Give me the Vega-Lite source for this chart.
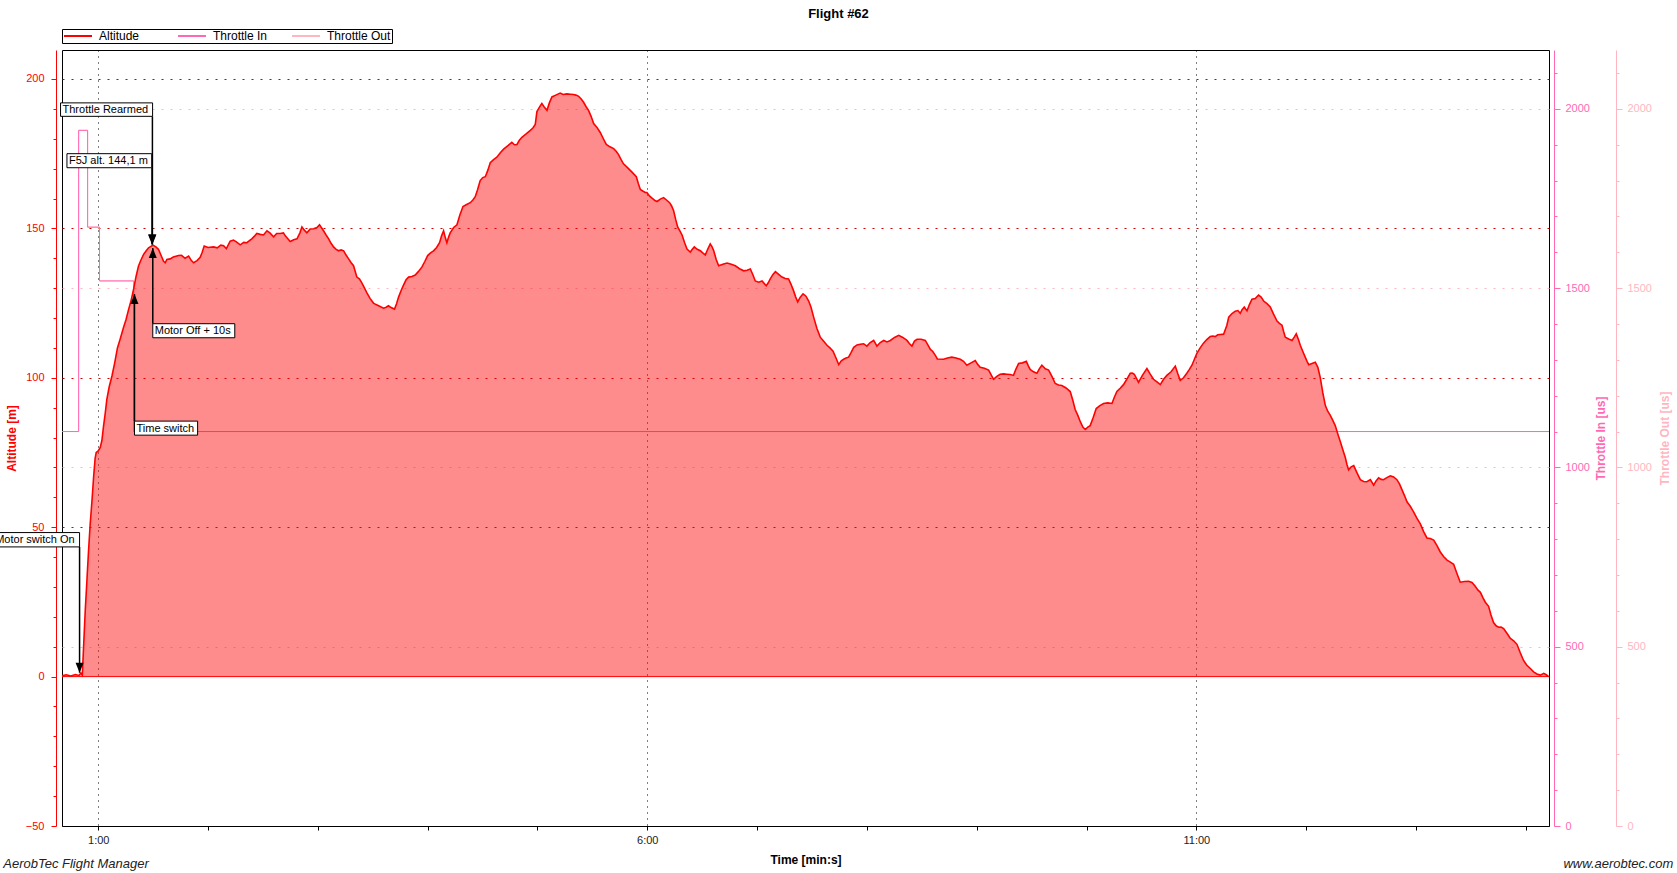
{
  "$schema": "https://vega.github.io/schema/vega-lite/v6.json",
  "width": 1487,
  "height": 776,
  "autosize": {"type": "none"},
  "padding": {"left": 62, "top": 50, "right": 128, "bottom": 47},
  "background": "white",
  "title": {"text": "Flight #62", "fontSize": 13, "fontWeight": "bold", "color": "black", "anchor": "middle", "dx": 33, "offset": 8},
  "config": {
    "font": "Liberation Sans",
    "view": {"stroke": "black", "strokeWidth": 1, "fill": "white"},
    "axis": {"labelFontSize": 11, "titleFontSize": 12, "titleFontWeight": "bold", "labelOverlap": false, "labelBound": false, "labelFlush": false, "domainWidth": 1, "tickWidth": 1}
  },
  "datasets": {
    "alt": [
      {"t":40.2,"alt":0.3},{"t":42.5,"alt":0.6},{"t":45,"alt":0.2},{"t":47.5,"alt":0.7},{"t":49.5,"alt":0.4},{"t":50.5,"alt":1.2},{"t":51.3,"alt":0.5},
      {"t":52,"alt":10},{"t":52.9,"alt":22},{"t":53.8,"alt":32},{"t":54.7,"alt":42},{"t":55.6,"alt":51},{"t":56.6,"alt":59},{"t":57.5,"alt":67},{"t":58.3,"alt":73},{"t":58.9,"alt":75},{"t":60,"alt":75.5},{"t":61.1,"alt":76.7},{"t":62,"alt":79},{"t":62.9,"alt":83.8},{"t":63.8,"alt":88},{"t":64.7,"alt":92.8},{"t":66,"alt":97},{"t":67.5,"alt":100.6},{"t":69,"alt":105},{"t":70.5,"alt":110},{"t":72,"alt":113},{"t":73.8,"alt":116.8},{"t":75.2,"alt":119.5},{"t":76.6,"alt":122.9},{"t":78,"alt":126},{"t":79.3,"alt":129.6},{"t":80.7,"alt":134},{"t":82,"alt":137.4},{"t":83.4,"alt":139.5},{"t":84.8,"alt":141.3},{"t":86.2,"alt":142.5},{"t":87.5,"alt":143.5},{"t":89.9,"alt":144.4},{"t":91.5,"alt":143.8},{"t":92.9,"alt":143},{"t":94.3,"alt":141},{"t":95.7,"alt":139},{"t":96.6,"alt":138.5},{"t":97.5,"alt":139.6},{"t":99.3,"alt":139.8},{"t":101,"alt":140.4},{"t":103.9,"alt":140.9},{"t":105.5,"alt":141},{"t":107.5,"alt":140},{"t":109.4,"alt":140.7},{"t":110.8,"alt":139.3},{"t":112.1,"alt":138.5},{"t":114,"alt":139.2},{"t":115.7,"alt":140.3},{"t":116.8,"alt":142},{"t":117.9,"alt":144.1},{"t":120,"alt":143.6},{"t":123,"alt":143.8},{"t":125,"alt":143.5},{"t":127,"alt":144.4},{"t":128.5,"alt":144.2},{"t":130,"alt":143.2},{"t":132.1,"alt":145.7},{"t":133.9,"alt":146.1},{"t":135.5,"alt":145.5},{"t":137.6,"alt":144.5},{"t":139.5,"alt":145.3},{"t":141.2,"alt":145.2},{"t":143.9,"alt":146.5},{"t":145.5,"alt":147.5},{"t":146.7,"alt":148.3},{"t":148.5,"alt":148},{"t":150.3,"alt":147.8},{"t":152.2,"alt":149.2},{"t":153.8,"alt":148.5},{"t":155.8,"alt":147.2},{"t":157.5,"alt":148.3},{"t":159.4,"alt":148.3},{"t":161.2,"alt":148.5},{"t":162.2,"alt":147.5},{"t":164.9,"alt":145.6},{"t":166.8,"alt":146.2},{"t":168.6,"alt":146.5},{"t":170.2,"alt":148.5},{"t":171.3,"alt":150.5},{"t":172.5,"alt":149.5},{"t":174,"alt":148.5},{"t":175.8,"alt":149.8},{"t":177.7,"alt":149.9},{"t":179.5,"alt":150.3},{"t":180.9,"alt":151.2},{"t":182,"alt":150.2},{"t":183.1,"alt":149.2},{"t":184.5,"alt":147.8},{"t":185.9,"alt":146.5},{"t":187.2,"alt":145},{"t":188.6,"alt":143.8},{"t":190,"alt":143},{"t":191.3,"alt":142.5},{"t":192.7,"alt":142.8},{"t":194.1,"alt":142.5},{"t":195.5,"alt":141},{"t":196.8,"alt":139.8},{"t":198.2,"alt":138.5},{"t":199.5,"alt":137.5},{"t":201.3,"alt":133.7},{"t":202.7,"alt":133.1},{"t":204.1,"alt":131.7},{"t":205.5,"alt":130},{"t":206.8,"alt":128.4},{"t":208.6,"alt":126.5},{"t":210.4,"alt":125},{"t":211.8,"alt":124.5},{"t":213.2,"alt":124.1},{"t":215.9,"alt":123.3},{"t":217.3,"alt":123.6},{"t":218.6,"alt":124.1},{"t":220,"alt":123.5},{"t":221.9,"alt":123},{"t":223,"alt":124.8},{"t":224.1,"alt":127},{"t":225.5,"alt":129.2},{"t":226.8,"alt":131},{"t":228.2,"alt":132.8},{"t":229.6,"alt":133.7},{"t":231.4,"alt":133.9},{"t":233.2,"alt":134.4},{"t":235,"alt":135.6},{"t":236.9,"alt":137.1},{"t":238.5,"alt":139},{"t":240,"alt":140.9},{"t":241.6,"alt":141.8},{"t":243.2,"alt":142.5},{"t":244.9,"alt":143.6},{"t":246.5,"alt":145.2},{"t":247.6,"alt":147.5},{"t":248.7,"alt":149.2},{"t":249.6,"alt":147},{"t":250.5,"alt":145.2},{"t":251.4,"alt":147},{"t":252.3,"alt":148.5},{"t":254.2,"alt":150.3},{"t":256,"alt":151.2},{"t":257.6,"alt":154.5},{"t":259.3,"alt":157.3},{"t":261.3,"alt":158},{"t":263.3,"alt":158.6},{"t":264.7,"alt":159.5},{"t":266,"alt":160.6},{"t":267.3,"alt":163},{"t":268.7,"alt":166},{"t":270.1,"alt":167},{"t":271.5,"alt":167.3},{"t":272.9,"alt":169.5},{"t":274.2,"alt":172},{"t":276,"alt":173},{"t":277.8,"alt":173.8},{"t":279.7,"alt":175.3},{"t":281.5,"alt":176.5},{"t":283.7,"alt":177.6},{"t":286,"alt":178.8},{"t":287.4,"alt":178},{"t":288.8,"alt":178.1},{"t":290.1,"alt":179.5},{"t":291.5,"alt":180.5},{"t":293.8,"alt":181.6},{"t":296.1,"alt":182.8},{"t":297.5,"alt":183.6},{"t":298.8,"alt":184.8},{"t":299.7,"alt":189.1},{"t":301,"alt":190.5},{"t":302.4,"alt":191.8},{"t":303.8,"alt":190.5},{"t":305.2,"alt":189.5},{"t":306.5,"alt":192},{"t":307.9,"alt":194},{"t":310,"alt":194.6},{"t":312.4,"alt":195.3},{"t":314,"alt":194.8},{"t":316.1,"alt":195},{"t":318,"alt":194.9},{"t":319.7,"alt":194.8},{"t":321,"alt":194.6},{"t":322.5,"alt":194.2},{"t":324,"alt":193.2},{"t":325.2,"alt":192.2},{"t":326.5,"alt":190.8},{"t":327.9,"alt":189.5},{"t":329.3,"alt":187.5},{"t":330.7,"alt":185.1},{"t":332.5,"alt":183.8},{"t":334.3,"alt":182.1},{"t":336,"alt":180},{"t":337.6,"alt":178.1},{"t":339.6,"alt":177.3},{"t":341.6,"alt":176.7},{"t":343,"alt":175.8},{"t":344.3,"alt":174.7},{"t":345.7,"alt":173},{"t":347,"alt":171.6},{"t":348.9,"alt":170.5},{"t":350.7,"alt":169.4},{"t":352.3,"alt":168.4},{"t":354,"alt":167.3},{"t":355.1,"alt":165},{"t":356.2,"alt":163},{"t":357.5,"alt":162.5},{"t":358.9,"alt":162},{"t":359.8,"alt":162},{"t":361.3,"alt":160.8},{"t":363.1,"alt":159.9},{"t":364.2,"alt":159.3},{"t":365.3,"alt":159},{"t":367.1,"alt":159.8},{"t":368.9,"alt":160.3},{"t":370.5,"alt":159.5},{"t":372.2,"alt":158.6},{"t":373.3,"alt":157.5},{"t":374.4,"alt":155.9},{"t":375.5,"alt":153},{"t":376.6,"alt":150.5},{"t":377.8,"alt":149.2},{"t":379,"alt":147.8},{"t":380.4,"alt":145.2},{"t":381.7,"alt":143.1},{"t":383.5,"alt":142.1},{"t":384.6,"alt":143},{"t":385.7,"alt":143.8},{"t":387.3,"alt":143},{"t":389,"alt":142.5},{"t":390.3,"alt":141.8},{"t":391.7,"alt":141.1},{"t":393,"alt":143},{"t":394.4,"alt":144.8},{"t":395.4,"alt":143.8},{"t":396.3,"alt":142.5},{"t":397.7,"alt":139.5},{"t":399,"alt":137.5},{"t":401.3,"alt":138},{"t":403.6,"alt":138.4},{"t":405.9,"alt":138},{"t":408.1,"alt":137.5},{"t":410.4,"alt":136.5},{"t":412.7,"alt":135.8},{"t":414.5,"alt":136},{"t":416.3,"alt":136.4},{"t":417.7,"alt":134.5},{"t":419,"alt":132.4},{"t":420.9,"alt":132},{"t":422.7,"alt":132.4},{"t":425,"alt":130.8},{"t":426.1,"alt":131.8},{"t":427.2,"alt":133.1},{"t":428.6,"alt":134.5},{"t":430,"alt":135.5},{"t":431.8,"alt":134.6},{"t":433.6,"alt":133.7},{"t":435.4,"alt":133.2},{"t":437.2,"alt":133.1},{"t":438.6,"alt":131.2},{"t":440,"alt":129},{"t":441.1,"alt":127},{"t":442.2,"alt":125.4},{"t":443.6,"alt":127},{"t":445.1,"alt":128.1},{"t":446.7,"alt":127.3},{"t":448.2,"alt":125.7},{"t":449.5,"alt":123.5},{"t":450.9,"alt":120.3},{"t":452.7,"alt":116.5},{"t":454.5,"alt":113.6},{"t":456.4,"alt":112.2},{"t":458.2,"alt":110.9},{"t":459.8,"alt":110},{"t":461.5,"alt":108.9},{"t":463,"alt":106.8},{"t":464.6,"alt":104.4},{"t":466,"alt":105.7},{"t":467.3,"alt":106.2},{"t":468.6,"alt":106.6},{"t":470,"alt":106.9},{"t":471.4,"alt":108.5},{"t":472.8,"alt":110.2},{"t":474.6,"alt":111},{"t":476.4,"alt":111.2},{"t":478.2,"alt":111.4},{"t":480,"alt":110.6},{"t":481.8,"alt":111.8},{"t":483.7,"alt":112.5},{"t":485.5,"alt":110.6},{"t":487.3,"alt":111.8},{"t":489.2,"alt":112.5},{"t":491,"alt":112},{"t":492.8,"alt":112.5},{"t":495.1,"alt":113.5},{"t":497.4,"alt":114.2},{"t":499.6,"alt":113.5},{"t":501.9,"alt":112.5},{"t":503.2,"alt":111.5},{"t":504.6,"alt":110.6},{"t":506,"alt":112.3},{"t":507.4,"alt":112.9},{"t":509.6,"alt":112.9},{"t":511.9,"alt":112.5},{"t":513.3,"alt":111},{"t":514.7,"alt":109.5},{"t":516,"alt":108.8},{"t":517.4,"alt":107.5},{"t":518.5,"alt":106.3},{"t":521.9,"alt":106.2},{"t":524,"alt":106.6},{"t":526.4,"alt":106.9},{"t":528.7,"alt":106.6},{"t":531,"alt":106.2},{"t":532.8,"alt":105.5},{"t":534.6,"alt":104.2},{"t":536.9,"alt":105},{"t":539.2,"alt":105.8},{"t":540.5,"alt":104.5},{"t":541.9,"alt":103.5},{"t":544.2,"alt":103.2},{"t":546.5,"alt":102.6},{"t":547.9,"alt":101},{"t":549.2,"alt":99.5},{"t":551,"alt":100.5},{"t":552.8,"alt":101.2},{"t":554.7,"alt":101.3},{"t":556.5,"alt":101.2},{"t":558.3,"alt":101.1},{"t":560.1,"alt":100.8},{"t":561.5,"alt":103},{"t":562.9,"alt":104.8},{"t":565,"alt":105},{"t":567.1,"alt":105.5},{"t":568.2,"alt":104},{"t":569.2,"alt":102.8},{"t":571,"alt":102},{"t":572.9,"alt":101.5},{"t":574.2,"alt":103},{"t":575.6,"alt":104.2},{"t":577.5,"alt":103},{"t":579.3,"alt":102.6},{"t":581.1,"alt":100.5},{"t":582.9,"alt":98.1},{"t":584.7,"alt":97.6},{"t":586.5,"alt":97.4},{"t":588.8,"alt":96.6},{"t":591.1,"alt":95.4},{"t":592.5,"alt":92.5},{"t":593.8,"alt":89.4},{"t":595.2,"alt":87.5},{"t":596.6,"alt":85.3},{"t":598,"alt":83.5},{"t":599.3,"alt":82.7},{"t":600.7,"alt":83.5},{"t":602,"alt":84},{"t":603.7,"alt":86.8},{"t":605.3,"alt":89.7},{"t":607.3,"alt":90.7},{"t":609.3,"alt":91.4},{"t":611.6,"alt":91.6},{"t":613.9,"alt":91.4},{"t":615.2,"alt":93.5},{"t":616.6,"alt":95.4},{"t":618.4,"alt":96.5},{"t":620.2,"alt":97.7},{"t":622,"alt":99.5},{"t":623.9,"alt":101.5},{"t":625,"alt":101.6},{"t":626.1,"alt":101.2},{"t":627.3,"alt":99.8},{"t":628.4,"alt":98.5},{"t":630.7,"alt":101},{"t":633,"alt":103.1},{"t":634.8,"alt":101.2},{"t":636.6,"alt":99.5},{"t":638.5,"alt":98.6},{"t":640.3,"alt":97.7},{"t":642.1,"alt":99.5},{"t":643.9,"alt":100.8},{"t":646.2,"alt":102},{"t":648.5,"alt":103.9},{"t":649.8,"alt":101.5},{"t":651.2,"alt":99.1},{"t":653,"alt":100},{"t":654.8,"alt":101.5},{"t":656.2,"alt":102.8},{"t":657.6,"alt":104.2},{"t":659,"alt":106.3},{"t":660.3,"alt":108.2},{"t":662.1,"alt":110},{"t":663.9,"alt":111.6},{"t":665.7,"alt":112.8},{"t":667.6,"alt":113.8},{"t":669,"alt":114},{"t":670.3,"alt":113.8},{"t":671.7,"alt":114.4},{"t":673.1,"alt":114.5},{"t":674.9,"alt":114.6},{"t":676.7,"alt":117.6},{"t":677.7,"alt":120.3},{"t":679.5,"alt":121.5},{"t":681.3,"alt":122.3},{"t":682.7,"alt":122.5},{"t":684,"alt":121.6},{"t":685,"alt":122.8},{"t":686.2,"alt":123.7},{"t":687.7,"alt":122.4},{"t":689,"alt":124.5},{"t":690.4,"alt":126.3},{"t":692.2,"alt":126.5},{"t":694,"alt":127.7},{"t":695.4,"alt":127},{"t":696.8,"alt":125.7},{"t":698.6,"alt":124.8},{"t":700.4,"alt":123.7},{"t":702.2,"alt":121.3},{"t":704.1,"alt":119},{"t":705.4,"alt":118.2},{"t":706.8,"alt":117.6},{"t":707.7,"alt":115.5},{"t":708.6,"alt":113.6},{"t":710.5,"alt":113},{"t":712.3,"alt":112.5},{"t":713.5,"alt":113.6},{"t":714.6,"alt":114.7},{"t":715.7,"alt":113},{"t":716.8,"alt":110.9},{"t":718.2,"alt":108.8},{"t":719.5,"alt":106.9},{"t":720.5,"alt":105.5},{"t":721.4,"alt":104.4},{"t":723.2,"alt":104.8},{"t":725,"alt":105.2},{"t":726.4,"alt":103.5},{"t":727.7,"alt":100.1},{"t":729.1,"alt":95},{"t":730.5,"alt":90.7},{"t":731.8,"alt":88.8},{"t":733.2,"alt":87.4},{"t":734.5,"alt":85.8},{"t":735.9,"alt":84},{"t":737.3,"alt":81.2},{"t":738.7,"alt":78.6},{"t":740,"alt":76},{"t":741.4,"alt":73.3},{"t":742.3,"alt":71},{"t":743.2,"alt":69.2},{"t":744.6,"alt":70.2},{"t":746,"alt":70.6},{"t":747.8,"alt":68.2},{"t":749.6,"alt":65.9},{"t":751.4,"alt":65.3},{"t":753.2,"alt":65.2},{"t":755.1,"alt":65.9},{"t":756.9,"alt":64.1},{"t":758.2,"alt":65.5},{"t":759.6,"alt":66.5},{"t":761,"alt":66},{"t":762.3,"alt":65.9},{"t":764.1,"alt":66.6},{"t":766,"alt":67.2},{"t":767.8,"alt":66.8},{"t":769.6,"alt":65.9},{"t":771,"alt":64.5},{"t":772.4,"alt":62.5},{"t":773.8,"alt":60.5},{"t":775.1,"alt":58.5},{"t":776.9,"alt":57},{"t":778.7,"alt":55.1},{"t":780.5,"alt":53},{"t":782.4,"alt":51.1},{"t":784.2,"alt":48.5},{"t":786,"alt":46.4},{"t":787.8,"alt":46.2},{"t":789.7,"alt":45.7},{"t":791.5,"alt":43.8},{"t":793.3,"alt":41.7},{"t":795.1,"alt":40.2},{"t":797,"alt":39},{"t":798.8,"alt":38.3},{"t":800.6,"alt":37.6},{"t":802.4,"alt":34.5},{"t":804.2,"alt":31.6},{"t":806.5,"alt":31.8},{"t":808.8,"alt":31.9},{"t":810.6,"alt":31.5},{"t":812.4,"alt":30.2},{"t":813.8,"alt":29},{"t":815.2,"alt":28.2},{"t":816.5,"alt":26.5},{"t":817.9,"alt":24.9},{"t":819.7,"alt":23.5},{"t":821,"alt":20.6},{"t":822.4,"alt":18.1},{"t":823.8,"alt":17},{"t":825.2,"alt":16.5},{"t":826.5,"alt":16.6},{"t":827.9,"alt":16.1},{"t":829.7,"alt":14.5},{"t":831.6,"alt":12.8},{"t":833.4,"alt":12},{"t":835.2,"alt":10.8},{"t":837,"alt":8},{"t":838.8,"alt":5.4},{"t":840.6,"alt":3.8},{"t":842.5,"alt":2.7},{"t":844.3,"alt":1.6},{"t":846.1,"alt":0.9},{"t":848,"alt":0.5},{"t":849.8,"alt":1.1},{"t":851,"alt":0.7},{"t":852.5,"alt":0}
    ],
    "thr": [
      {"t":40.2,"thr":1100},{"t":49.3,"thr":1940},{"t":54.2,"thr":1670},{"t":60.7,"thr":1520},{"t":79.4,"thr":1100},{"t":852.7,"thr":1100}
    ],
    "ann": [
      {"label":"Motor switch On","t":49.8,"a":1.3,"la":43.4,"t0":2.6,"t1":49.8,"top":48.2,"bot":43.4},
      {"label":"Time switch","t":79.8,"a":128,"la":85.5,"t0":79.8,"t1":114.3,"top":85.5,"bot":80.8},
      {"label":"Motor Off + 10s","t":89.8,"a":143.4,"la":118.1,"t0":89.8,"t1":134.6,"top":118.1,"bot":113.4},
      {"label":"F5J alt. 144,1 m","t":89.4,"a":144.6,"la":170.3,"t0":42.9,"t1":89.2,"top":175.0,"bot":170.3},
      {"label":"Throttle Rearmed","t":89.6,"a":144.6,"la":187.5,"t0":39.4,"t1":89.7,"top":192.0,"bot":187.5}
    ]
  },
  "resolve": {"scale": {"y": "independent"}, "axis": {"y": "independent"}},
  "layer": [
    {
      "data": {"values": [{"level": 0}]},
      "mark": {"type": "rule", "opacity": 0},
      "encoding": {
        "y": {"field": "level", "type": "quantitative", "title": null,
          "scale": {"domain": [-50, 209.7], "nice": false, "zero": false},
          "axis": {"orient": "left", "offset": 6, "title": null, "labels": false, "domain": false, "grid": false,
            "values": [-40,-30,-20,-10,10,20,30,40,60,70,80,90,110,120,130,140,160,170,180,190],
            "tickSize": 3, "tickColor": "#ff0000"}}
      }
    },
    {
      "data": {"name": "thr"},
      "mark": {"type": "line", "interpolate": "step-after", "strokeWidth": 1},
      "encoding": {
        "x": {"field": "t", "type": "quantitative", "title": "Time [min:s]",
          "scale": {"domain": [40.2, 852.7], "nice": false, "zero": false},
          "axis": {"title": "Time [min:s]", "values": [60,120,180,240,300,360,420,480,540,600,660,720,780,840],
            "labelExpr": "datum.value % 300 === 60 ? floor(datum.value/60) + ':00' : ''",
            "labelOverlap": false,
            "grid": true, "gridColor": "black", "gridDash": [1,5],
            "gridOpacity": {"condition": {"test": "datum.value % 300 === 60", "value": 1}, "value": 0},
            "domainColor": "black", "tickColor": "black", "tickSize": 4, "labelColor": "#222222", "labelPadding": 4,
            "titleColor": "black", "titlePadding": 9}},
        "y": {"field": "thr", "type": "quantitative", "title": "Throttle Out [us]",
          "scale": {"domain": [0, 2164], "nice": false, "zero": false},
          "axis": {"orient": "right", "offset": 67, "title": "Throttle Out [us]", "titleAngle": 270,
            "values": [0,100,200,300,400,500,600,700,800,900,1000,1100,1200,1300,1400,1500,1600,1700,1800,1900,2000,2100],
            "labelExpr": "datum.value % 500 === 0 ? datum.label : ''",
            "labelOverlap": false,
            "tickSize": {"condition": {"test": "datum.value % 500 === 0", "value": 6}, "value": 3},
            "grid": false, "domainColor": "#ffb6c1", "tickColor": "#ffb6c1", "labelColor": "#ffb6c1", "titleColor": "#ffb6c1",
            "labelPadding": 5, "titlePadding": 20, "format": "d"}},
        "color": {"datum": "Throttle Out", "type": "nominal"}
      }
    },
    {
      "data": {"name": "thr"},
      "mark": {"type": "line", "interpolate": "step-after", "strokeWidth": 1},
      "encoding": {
        "x": {"field": "t", "type": "quantitative", "title": "Time [min:s]", "scale": {"domain": [40.2, 852.7], "nice": false, "zero": false}},
        "y": {"field": "thr", "type": "quantitative", "title": "Throttle In [us]",
          "scale": {"domain": [0, 2164], "nice": false, "zero": false},
          "axis": {"orient": "right", "offset": 5, "title": "Throttle In [us]", "titleAngle": 270,
            "values": [0,100,200,300,400,500,600,700,800,900,1000,1100,1200,1300,1400,1500,1600,1700,1800,1900,2000,2100],
            "labelExpr": "datum.value % 500 === 0 ? datum.label : ''",
            "labelOverlap": false,
            "tickSize": {"condition": {"test": "datum.value % 500 === 0", "value": 6}, "value": 3},
            "grid": true, "gridColor": "#ffb6c1", "gridDash": [2,7],
            "gridOpacity": {"condition": {"test": "datum.value % 500 === 0 && datum.value > 0", "value": 1}, "value": 0},
            "domainColor": "#ff69b4", "tickColor": "#ff69b4", "labelColor": "#ff69b4", "titleColor": "#ff69b4",
            "labelPadding": 5, "titlePadding": 18, "format": "d"}},
        "color": {"datum": "Throttle In", "type": "nominal"}
      }
    },
    {
      "layer": [
        {
          "data": {"name": "alt"},
          "mark": {"type": "area", "color": "#ff0000", "fillOpacity": 0.45, "strokeWidth": 0},
          "encoding": {
            "x": {"field": "t", "type": "quantitative", "title": "Time [min:s]", "scale": {"domain": [40.2, 852.7], "nice": false, "zero": false}},
            "y": {"field": "alt", "type": "quantitative", "title": "Altitude [m]",
              "scale": {"domain": [-50, 209.7], "nice": false, "zero": false},
              "axis": {"orient": "left", "offset": 6, "title": "Altitude [m]",
                "values": [-50, 0, 50, 100, 150, 200],
                "labelOverlap": false,
                "tickSize": 5,
                "grid": true, "gridColor": "#cc0000", "gridDash": [2,7],
                "gridOpacity": {"condition": {"test": "datum.value > 0", "value": 1}, "value": 0},
                "domainColor": "#ff0000", "tickColor": "#ff0000", "labelColor": "#ff0000", "titleColor": "#ff0000",
                "labelPadding": 7, "titlePadding": 7}},
            "y2": {"datum": 0}
          }
        },
        {
          "data": {"values": [{"level": 0}]},
          "mark": {"type": "rule", "color": "#ff0000", "strokeWidth": 1},
          "encoding": {
            "y": {"field": "level", "type": "quantitative", "title": "Altitude [m]", "scale": {"domain": [-50, 209.7], "nice": false, "zero": false}}
          }
        },
        {
          "data": {"name": "alt"},
          "mark": {"type": "line", "strokeWidth": 1.6},
          "encoding": {
            "x": {"field": "t", "type": "quantitative", "title": "Time [min:s]", "scale": {"domain": [40.2, 852.7], "nice": false, "zero": false}},
            "y": {"field": "alt", "type": "quantitative", "title": "Altitude [m]", "scale": {"domain": [-50, 209.7], "nice": false, "zero": false}},
            "color": {"datum": "Altitude", "type": "nominal",
              "scale": {"domain": ["Altitude", "Throttle In", "Throttle Out"], "range": ["#ff0000", "#ff69b4", "#ffb6c1"]},
              "legend": {"orient": "none", "legendX": 0, "legendY": -21, "direction": "horizontal", "title": null,
                "symbolType": "M-2.8,0L2.8,0", "symbolSize": 100, "symbolStrokeWidth": 2, "symbolOffset": 9,
                "labelFontSize": 12, "labelColor": "black", "labelOffset": 15,
                "strokeColor": "black", "fillColor": "white", "padding": 1, "columnPadding": 11, "gridAlign": "all"}}
          }
        },
        {
          "data": {"name": "ann"},
          "mark": {"type": "rule", "color": "black", "strokeWidth": 1.5},
          "encoding": {
            "x": {"field": "t", "type": "quantitative", "title": "Time [min:s]", "scale": {"domain": [40.2, 852.7], "nice": false, "zero": false}},
            "y": {"field": "la", "type": "quantitative", "title": "Altitude [m]", "scale": {"domain": [-50, 209.7], "nice": false, "zero": false}},
            "y2": {"field": "a", "title": "Altitude [m]"}
          }
        },
        {
          "data": {"name": "ann"},
          "mark": {"type": "rect", "fill": "white", "stroke": "black", "strokeWidth": 1},
          "encoding": {
            "x": {"field": "t0", "type": "quantitative", "title": "Time [min:s]", "scale": {"domain": [40.2, 852.7], "nice": false, "zero": false}},
            "x2": {"field": "t1", "title": "Time [min:s]"},
            "y": {"field": "top", "type": "quantitative", "title": "Altitude [m]", "scale": {"domain": [-50, 209.7], "nice": false, "zero": false}},
            "y2": {"field": "bot", "title": "Altitude [m]"}
          }
        },
        {
          "data": {"name": "ann"},
          "mark": {"type": "text", "align": "left", "baseline": "top", "dx": 2, "dy": 1.5, "fontSize": 11, "color": "black"},
          "encoding": {
            "x": {"field": "t0", "type": "quantitative", "title": "Time [min:s]", "scale": {"domain": [40.2, 852.7], "nice": false, "zero": false}},
            "y": {"field": "top", "type": "quantitative", "title": "Altitude [m]", "scale": {"domain": [-50, 209.7], "nice": false, "zero": false}},
            "text": {"field": "label"}
          }
        },
        {
          "data": {"name": "ann"},
          "mark": {"type": "point", "filled": true, "size": 400, "color": "black", "opacity": 1, "strokeWidth": 0},
          "encoding": {
            "x": {"field": "t", "type": "quantitative", "title": "Time [min:s]", "scale": {"domain": [40.2, 852.7], "nice": false, "zero": false}},
            "y": {"field": "a", "type": "quantitative", "title": "Altitude [m]", "scale": {"domain": [-50, 209.7], "nice": false, "zero": false}},
            "shape": {"condition": {"test": "datum.la > datum.a", "value": "M0,0L-0.4,-1L0.4,-1Z"}, "value": "M0,0L-0.4,1L0.4,1Z"}
          }
        },
        {
          "data": {"values": [{"text": "AerobTec Flight Manager"}]},
          "mark": {"type": "text", "align": "left", "baseline": "middle", "fontSize": 13, "fontStyle": "italic", "color": "#222222"},
          "encoding": {
            "x": {"datum": 8.1, "type": "quantitative", "title": "Time [min:s]", "scale": {"domain": [40.2, 852.7], "nice": false, "zero": false}},
            "y": {"datum": -62.7, "type": "quantitative", "title": "Altitude [m]", "scale": {"domain": [-50, 209.7], "nice": false, "zero": false}},
            "text": {"field": "text"}
          }
        },
        {
          "data": {"values": [{"text": "www.aerobtec.com"}]},
          "mark": {"type": "text", "align": "right", "baseline": "middle", "fontSize": 13, "fontStyle": "italic", "color": "#222222"},
          "encoding": {
            "x": {"datum": 920.6, "type": "quantitative", "title": "Time [min:s]", "scale": {"domain": [40.2, 852.7], "nice": false, "zero": false}},
            "y": {"datum": -62.7, "type": "quantitative", "title": "Altitude [m]", "scale": {"domain": [-50, 209.7], "nice": false, "zero": false}},
            "text": {"field": "text"}
          }
        }
      ]
    }
  ]
}
